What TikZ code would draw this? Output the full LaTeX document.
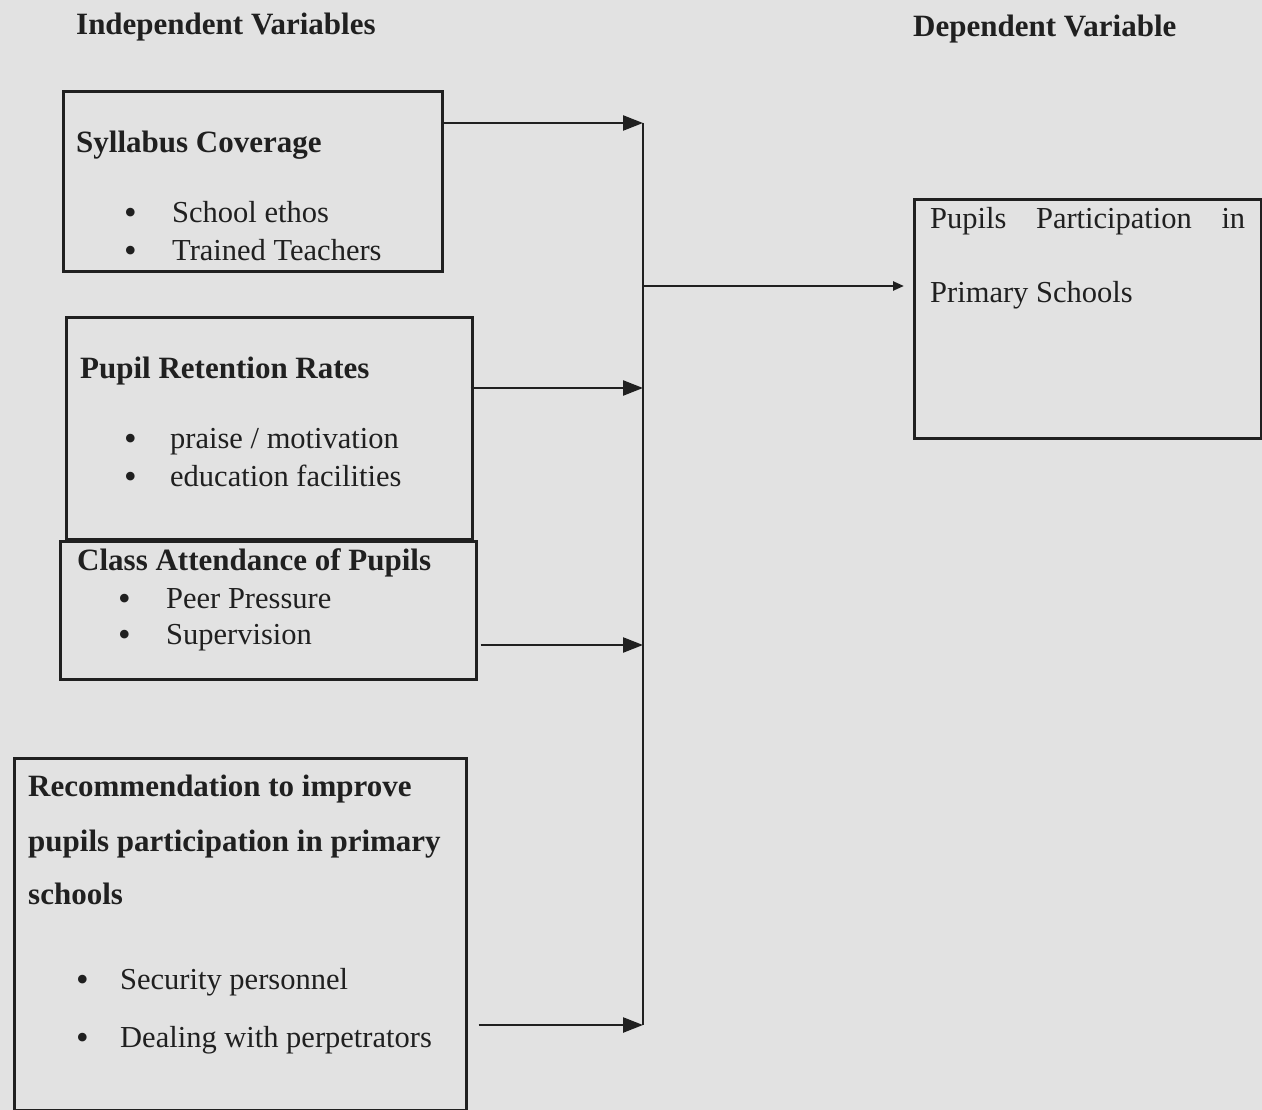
\documentclass[tikz,border=0pt]{standalone}
\usepackage{fontspec}
\setmainfont{Liberation Serif}
\usetikzlibrary{arrows.meta}
\definecolor{bg}{RGB}{226,226,226}
\definecolor{ink}{RGB}{32,32,32}
\begin{document}
\begin{tikzpicture}[x=1pt,y=-1pt,
  box/.style={draw=ink, line width=2.6pt, anchor=north west, inner sep=0pt},
  txt/.style={text=ink, inner sep=0pt, anchor=base west, font=\fontsize{30.5}{36}\selectfont},
  btxt/.style={txt, font=\fontsize{31}{36}\selectfont\bfseries},
  bul/.style={txt, font=\fontsize{36}{40}\selectfont},
  link/.style={draw=ink, line width=2.4pt},
  arr/.style={link, -{Triangle[length=20pt,width=15pt]}},
  arrs/.style={link, -{Triangle[length=11pt,width=9pt]}}]
\fill[bg] (0,0) rectangle (1262,1110);
\useasboundingbox (0,0) rectangle (1262,1110);

% headings
\node[btxt] (hind) at (76,35) {Independent Variables};
\node[btxt] (hdep) at (913,37) {Dependent Variable};

% boxes
\node[box, minimum width=379pt, minimum height=180pt] (b1) at (62,90) {};
\node[box, minimum width=406pt, minimum height=222pt] (b2) at (65,316) {};
\node[box, minimum width=416pt, minimum height=138pt] (b3) at (59,540) {};
\node[box, minimum width=452pt, minimum height=352pt] (b4) at (13,757) {};
\node[box, minimum width=347pt, minimum height=239pt] (out) at (913,198) {};

% box 1
\node[btxt] (t1) at (76,153) {Syllabus Coverage};
\node[bul] (b1a) at (124,225) {•};
\node[txt] (t1a) at (172,223) {School ethos};
\node[bul] (b1b) at (124,263) {•};
\node[txt] (t1b) at (172,261) {Trained Teachers};

% box 2
\node[btxt] (t2) at (80,378) {Pupil Retention Rates};
\node[bul] (b2a) at (124,450) {•};
\node[txt] (t2a) at (170,448) {praise / motivation};
\node[bul] (b2b) at (124,488) {•};
\node[txt] (t2b) at (170,486) {education facilities};

% box 3
\node[btxt] (t3) at (77,570) {Class Attendance of Pupils};
\node[bul] (b3a) at (118,610) {•};
\node[txt] (t3a) at (166,608) {Peer Pressure};
\node[bul] (b3b) at (118,646) {•};
\node[txt] (t3b) at (166,644) {Supervision};

% box 4
\node[btxt] (t4a) at (28,796) {Recommendation to improve};
\node[btxt] (t4b) at (28,851) {pupils participation in primary};
\node[btxt] (t4c) at (28,904) {schools};
\node[bul] (b4a) at (76,991) {•};
\node[txt] (t4d) at (120,989) {Security personnel};
\node[bul] (b4b) at (76,1049) {•};
\node[txt] (t4e) at (120,1047) {Dealing with perpetrators};

% dependent box text
\node[txt] (o1) at (930,229) {\hbox to 315pt{Pupils\hfill Participation\hfill in}};
\node[txt] (o2) at (930,302) {Primary Schools};

% junction line
\coordinate (j1) at (643,123);
\coordinate (j2) at (643,388);
\coordinate (j3) at (643,645);
\coordinate (j4) at (643,1025);
\coordinate (jm) at (643,286);
\draw[link] (j1) -- (j4);

\draw[arr] (b1.east |- j1) -- (j1);
\draw[arr] ([xshift=-3pt]b2.east |- j2) -- (j2);
\draw[arr] ([xshift=3pt]b3.east |- j3) -- (j3);
\draw[arr] ([xshift=11pt]b4.east |- j4) -- (j4);
\draw[arrs, shorten >=9pt] (jm) -- (out.west |- jm);
\end{tikzpicture}
\end{document}
